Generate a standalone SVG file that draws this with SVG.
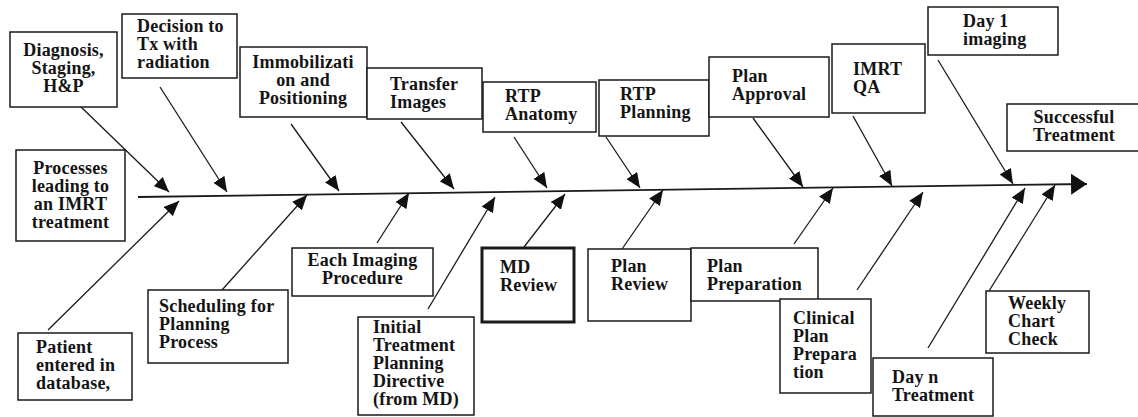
<svg xmlns="http://www.w3.org/2000/svg" width="1138" height="417" viewBox="0 0 1138 417">
  <style>
    .box { fill: #ffffff; stroke: #1a1a1a; stroke-width: 1.5; }
    .box-bold { fill: #ffffff; stroke: #1a1a1a; stroke-width: 3; }
    .lbl { font-family: "Liberation Serif", "Times New Roman", serif; font-weight: bold; font-size: 18px; letter-spacing: 0.2px; fill: #141414; }
    .mid { text-anchor: middle; }
    .arrow { stroke: #1a1a1a; stroke-width: 1.3; fill: none; marker-end: url(#head); }
    .spine { stroke: #1a1a1a; stroke-width: 1.8; fill: none; marker-end: url(#bighead); }
  </style>
  <defs>
    <marker id="head" markerUnits="userSpaceOnUse" markerWidth="16" markerHeight="13" refX="15" refY="6.5" orient="auto">
      <path d="M0,0 L15,6.5 L0,13 z" fill="#111"/>
    </marker>
    <marker id="bighead" markerUnits="userSpaceOnUse" markerWidth="17" markerHeight="22" refX="16" refY="10.5" orient="auto">
      <path d="M0,0 L16,10.5 L0,21 z" fill="#111"/>
    </marker>
  </defs>

  <rect width="1138" height="417" fill="#ffffff"/>

  <!-- spine and cause arrows -->
  <g id="connectors">
    <line class="spine" x1="138" y1="197" x2="1087" y2="184"/>
    <!-- upper causes -->
    <line class="arrow" x1="80" y1="106" x2="169" y2="192"/>
    <line class="arrow" x1="160" y1="87" x2="227" y2="192"/>
    <line class="arrow" x1="291" y1="124" x2="339" y2="191"/>
    <line class="arrow" x1="401" y1="122" x2="454" y2="189"/>
    <line class="arrow" x1="514" y1="137" x2="547" y2="188"/>
    <line class="arrow" x1="606" y1="137" x2="640" y2="188"/>
    <line class="arrow" x1="753" y1="118" x2="803" y2="187"/>
    <line class="arrow" x1="853" y1="116" x2="892" y2="186"/>
    <line class="arrow" x1="938" y1="60" x2="1013" y2="184"/>
    <!-- lower causes -->
    <line class="arrow" x1="48" y1="330" x2="179" y2="201"/>
    <line class="arrow" x1="222" y1="290" x2="307" y2="195"/>
    <line class="arrow" x1="377" y1="243" x2="409" y2="193"/>
    <line class="arrow" x1="428" y1="309" x2="495" y2="197"/>
    <line class="arrow" x1="524" y1="247" x2="565" y2="194"/>
    <line class="arrow" x1="622" y1="249" x2="663" y2="190"/>
    <line class="arrow" x1="794" y1="244" x2="833" y2="188"/>
    <line class="arrow" x1="857" y1="290" x2="923" y2="192"/>
    <line class="arrow" x1="928" y1="348" x2="1025" y2="188"/>
    <line class="arrow" x1="989" y1="291" x2="1055" y2="185"/>
  </g>

  <!-- upper boxes -->
  <g id="diagnosis">
    <rect class="box" x="10" y="32" width="107" height="75"/>
    <text class="lbl mid"><tspan x="63.5" y="56">Diagnosis,</tspan><tspan x="63.5" y="74">Staging,</tspan><tspan x="63.5" y="92">H&amp;P</tspan></text>
  </g>
  <g id="decision">
    <rect class="box" x="122" y="14" width="115" height="64"/>
    <text class="lbl"><tspan x="137" y="32">Decision to</tspan><tspan x="137" y="50">Tx with</tspan><tspan x="137" y="68">radiation</tspan></text>
  </g>
  <g id="immobilization">
    <rect class="box" x="240" y="47" width="127" height="70"/>
    <text class="lbl mid"><tspan x="303" y="68">Immobilizati</tspan><tspan x="303" y="86">on and</tspan><tspan x="303" y="104">Positioning</tspan></text>
  </g>
  <g id="transfer">
    <rect class="box" x="367" y="68" width="115" height="51"/>
    <text class="lbl"><tspan x="390" y="90">Transfer</tspan><tspan x="390" y="108">Images</tspan></text>
  </g>
  <g id="rtp-anatomy">
    <rect class="box" x="483" y="82" width="113" height="50"/>
    <text class="lbl"><tspan x="505" y="102">RTP</tspan><tspan x="505" y="120">Anatomy</tspan></text>
  </g>
  <g id="rtp-planning">
    <rect class="box" x="599" y="80" width="110" height="56"/>
    <text class="lbl"><tspan x="620" y="100">RTP</tspan><tspan x="620" y="118">Planning</tspan></text>
  </g>
  <g id="plan-approval">
    <rect class="box" x="709" y="57" width="120" height="60"/>
    <text class="lbl"><tspan x="732" y="82">Plan</tspan><tspan x="732" y="100">Approval</tspan></text>
  </g>
  <g id="imrt-qa">
    <rect class="box" x="832" y="44" width="93" height="69"/>
    <text class="lbl"><tspan x="853" y="75">IMRT</tspan><tspan x="853" y="93">QA</tspan></text>
  </g>
  <g id="day1">
    <rect class="box" x="928" y="7" width="130" height="48"/>
    <text class="lbl"><tspan x="963" y="27">Day 1</tspan><tspan x="963" y="45">imaging</tspan></text>
  </g>
  <g id="successful">
    <rect class="box" x="1007" y="104" width="133" height="47"/>
    <text class="lbl mid"><tspan x="1074" y="123">Successful</tspan><tspan x="1074" y="141">Treatment</tspan></text>
  </g>

  <!-- effect label on the left -->
  <g id="processes">
    <rect class="box" x="16" y="150" width="109" height="91"/>
    <text class="lbl mid"><tspan x="70.5" y="174">Processes</tspan><tspan x="70.5" y="192">leading to</tspan><tspan x="70.5" y="210">an IMRT</tspan><tspan x="70.5" y="228">treatment</tspan></text>
  </g>

  <!-- lower boxes -->
  <g id="patient">
    <rect class="box" x="18" y="333" width="114" height="67"/>
    <text class="lbl"><tspan x="36" y="353">Patient</tspan><tspan x="36" y="371">entered in</tspan><tspan x="36" y="389">database,</tspan></text>
  </g>
  <g id="scheduling">
    <rect class="box" x="148" y="290" width="140" height="73"/>
    <text class="lbl"><tspan x="159" y="312">Scheduling for</tspan><tspan x="159" y="330">Planning</tspan><tspan x="159" y="348">Process</tspan></text>
  </g>
  <g id="each-imaging">
    <rect class="box" x="292" y="248" width="141" height="48"/>
    <text class="lbl mid"><tspan x="362.5" y="266">Each Imaging</tspan><tspan x="362.5" y="284">Procedure</tspan></text>
  </g>
  <g id="initial-directive">
    <rect class="box" x="358" y="317" width="116" height="98"/>
    <text class="lbl"><tspan x="373" y="333">Initial</tspan><tspan x="373" y="351">Treatment</tspan><tspan x="373" y="369">Planning</tspan><tspan x="373" y="387">Directive</tspan><tspan x="373" y="405">(from MD)</tspan></text>
  </g>
  <g id="md-review">
    <rect class="box-bold" x="482" y="248" width="92" height="74"/>
    <text class="lbl"><tspan x="500" y="273">MD</tspan><tspan x="500" y="291">Review</tspan></text>
  </g>
  <g id="plan-review">
    <rect class="box" x="588" y="249" width="103" height="72"/>
    <text class="lbl"><tspan x="611" y="272">Plan</tspan><tspan x="611" y="290">Review</tspan></text>
  </g>
  <g id="plan-preparation">
    <rect class="box" x="691" y="248" width="127" height="53"/>
    <text class="lbl"><tspan x="707" y="272">Plan</tspan><tspan x="707" y="290">Preparation</tspan></text>
  </g>
  <g id="clinical-plan">
    <rect class="box" x="780" y="299" width="91" height="94"/>
    <text class="lbl"><tspan x="793" y="324">Clinical</tspan><tspan x="793" y="342">Plan</tspan><tspan x="793" y="360">Prepara</tspan><tspan x="793" y="378">tion</tspan></text>
  </g>
  <g id="day-n">
    <rect class="box" x="873" y="358" width="120" height="58"/>
    <text class="lbl"><tspan x="892" y="383">Day n</tspan><tspan x="892" y="401">Treatment</tspan></text>
  </g>
  <g id="weekly-check">
    <rect class="box" x="986" y="291" width="103" height="62"/>
    <text class="lbl"><tspan x="1008" y="309">Weekly</tspan><tspan x="1008" y="327">Chart</tspan><tspan x="1008" y="345">Check</tspan></text>
  </g>
</svg>
